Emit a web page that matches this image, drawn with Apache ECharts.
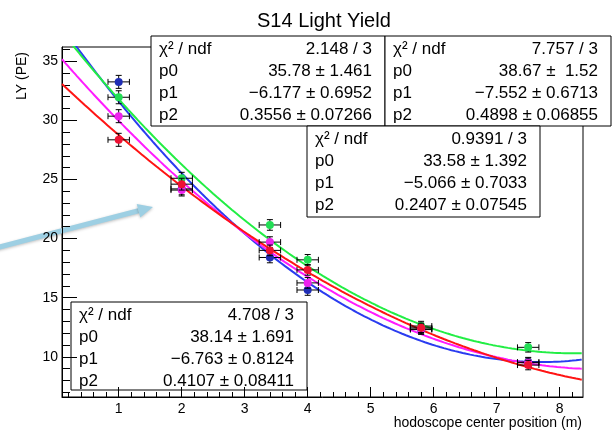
<!DOCTYPE html>
<html>
<head>
<meta charset="utf-8">
<script src="https://cdn.jsdelivr.net/npm/echarts@6/dist/echarts.min.js"></script>
<style>
html, body { margin: 0; padding: 0; background: #fff; }
#main { width: 615px; height: 431px; }
</style>
</head>
<body>
<div id="main"></div>
<script>
// measured points: hodoscope position (m) and light yield (PE)
const xPos = [1, 2, 3.4, 4, 5.8, 7.5];
const xErr = [0.17, 0.17, 0.17, 0.17, 0.17, 0.17];

const lyBlue = [33.25, 24.2, 18.4, 15.65, 12.3, 9.55];
const lyGreen = [31.95, 25.1, 21.15, 18.2, 12.6, 10.8];
const lyMagenta = [30.35, 24.1, 19.7, 16.25, 12.35, 9.5];
const lyRed = [28.35, 24.6, 19.0, 17.35, 12.45, 9.3];
const errLY = [0.55, 0.5, 0.45, 0.45, 0.4, 0.4];

// pol2 fit parameters p0, p1, p2 (from the stat boxes)
const fitMagenta = [35.78, -6.177, 0.3556];
const fitBlue = [38.67, -7.552, 0.4898];
const fitRed = [33.58, -5.066, 0.2407];
const fitGreen = [38.14, -6.763, 0.4107];

const statLabels = ['χ² / ndf', 'p0', 'p1', 'p2'];
const statMagenta = ['2.148 / 3', '35.78 ± 1.461', '−6.177 ± 0.6952', '0.3556 ± 0.07266'];
const statBlue = ['7.757 / 3', '38.67 ±  1.52', '−7.552 ± 0.6713', '0.4898 ± 0.06855'];
const statRed = ['0.9391 / 3', '33.58 ± 1.392', '−5.066 ± 0.7033', '0.2407 ± 0.07545'];
const statGreen = ['4.708 / 3', '38.14 ± 1.691', '−6.763 ± 0.8124', '0.4107 ± 0.08411'];

const xMajor = [1, 2, 3, 4, 5, 6, 7, 8];
const yMajor = [10, 15, 20, 25, 30, 35];

const X_MIN = 0.1, X_MAX = 8.37, Y_MIN = 6.6, Y_MAX = 36.2;
const FONT = 'Liberation Sans, Arial, sans-serif';

let xMinor = [];
for (let i = 1; i <= 41; i++) { if (i % 5) xMinor.push(+(i * 0.2).toFixed(2)); }
let yMinor = [];
for (let v = 7; v <= 36; v++) { if (v % 5) yMinor.push(v); }

function fitCurve(p) {
    let pts = [];
    for (let x = X_MIN; x <= X_MAX + 1e-9; x += 0.03) {
        pts.push([x, p[0] + p[1] * x + p[2] * x * x]);
    }
    return pts;
}

function points(ly) {
    return xPos.map((x, i) => [x, ly[i], xErr[i], errLY[i]]);
}

function errorBars(color) {
    return function (params, api) {
        const x = api.value(0), y = api.value(1), xe = api.value(2), ye = api.value(3);
        const c = api.coord([x, y]);
        const l = api.coord([x - xe, y])[0], r = api.coord([x + xe, y])[0];
        const b = api.coord([x, y - ye])[1], t = api.coord([x, y + ye])[1];
        const cap = 3;
        const st = { stroke: '#000', lineWidth: 1 };
        return {
            type: 'group',
            children: [
                { type: 'line', shape: { x1: l, y1: c[1], x2: r, y2: c[1] }, style: st },
                { type: 'line', shape: { x1: l, y1: c[1] - cap, x2: l, y2: c[1] + cap }, style: st },
                { type: 'line', shape: { x1: r, y1: c[1] - cap, x2: r, y2: c[1] + cap }, style: st },
                { type: 'line', shape: { x1: c[0], y1: b, x2: c[0], y2: t }, style: st },
                { type: 'line', shape: { x1: c[0] - cap, y1: b, x2: c[0] + cap, y2: b }, style: st },
                { type: 'line', shape: { x1: c[0] - cap, y1: t, x2: c[0] + cap, y2: t }, style: st },
                { type: 'circle', shape: { cx: c[0], cy: c[1], r: 4 }, style: { fill: color } }
            ]
        };
    };
}

function statBox(x, y, w, h, values) {
    let els = [{
        type: 'rect', shape: { x: x, y: y, width: w, height: h },
        style: { fill: '#fff', stroke: '#000', lineWidth: 1 }
    }];
    statLabels.forEach((lab, i) => {
        const ty = y + 13.5 + i * 22;
        els.push({ type: 'text', x: x + 8, y: ty,
            style: { text: lab, font: '17px ' + FONT, fill: '#000', align: 'left', verticalAlign: 'middle', textAlign: 'left', textVerticalAlign: 'middle' } });
        els.push({ type: 'text', x: x + w - 13, y: ty,
            style: { text: values[i], font: '17px ' + FONT, fill: '#000', align: 'right', verticalAlign: 'middle', textAlign: 'right', textVerticalAlign: 'middle' } });
    });
    return { type: 'group', z: 100, children: els };
}

function arrow(x1, y1, x2, y2, color) {
    const dx = x2 - x1, dy = y2 - y1, len = Math.sqrt(dx * dx + dy * dy);
    const ux = dx / len, uy = dy / len, hl = 15, hw = 7;
    const bx = x2 - ux * hl, by = y2 - uy * hl;
    return {
        type: 'group', z: 90,
        children: [
            { type: 'line', shape: { x1: x1, y1: y1, x2: bx, y2: by },
              style: { stroke: color, lineWidth: 5, shadowBlur: 3, shadowColor: 'rgba(0,0,0,0.25)', shadowOffsetY: 1 } },
            { type: 'polygon', shape: { points: [[x2, y2], [bx - uy * hw, by + ux * hw], [bx + uy * hw, by - ux * hw]] },
              style: { fill: color, shadowBlur: 3, shadowColor: 'rgba(0,0,0,0.25)', shadowOffsetY: 1 } }
        ]
    };
}

let chartDom = document.getElementById('main');
let myChart = echarts.init(chartDom);
let option;

const axisText = { color: '#000', fontSize: 14, fontFamily: FONT };

option = {
    animation: false,
    title: {
        text: 'S14 Light Yield',
        left: 252,
        top: 6,
        textStyle: { color: '#000', fontSize: 20, fontWeight: 'normal', fontFamily: FONT }
    },
    grid: {
        left: 62, right: 32, top: 47, bottom: 34,
        show: true, borderColor: '#000', borderWidth: 1
    },
    xAxis: [
        {
            type: 'value', min: X_MIN, max: X_MAX, position: 'bottom',
            axisLine: { lineStyle: { color: '#000' } },
            axisTick: { inside: true, length: 10, customValues: xMajor, lineStyle: { color: '#000' } },
            axisLabel: Object.assign({ customValues: xMajor, margin: 5 }, axisText),
            splitLine: { show: false }
        },
        {
            type: 'value', min: X_MIN, max: X_MAX, position: 'bottom',
            axisLine: { show: false },
            axisTick: { inside: true, length: 5, customValues: xMinor, lineStyle: { color: '#000' } },
            axisLabel: { show: false },
            splitLine: { show: false }
        }
    ],
    yAxis: [
        {
            type: 'value', min: Y_MIN, max: Y_MAX, position: 'left',
            axisLine: { show: true, lineStyle: { color: '#000' } },
            axisTick: { show: true, inside: true, length: 15, customValues: yMajor, lineStyle: { color: '#000' } },
            axisLabel: Object.assign({ customValues: yMajor, margin: 4 }, axisText),
            splitLine: { show: false }
        },
        {
            type: 'value', min: Y_MIN, max: Y_MAX, position: 'left',
            axisLine: { show: false },
            axisTick: { show: true, inside: true, length: 8, customValues: yMinor, lineStyle: { color: '#000' } },
            axisLabel: { show: false },
            splitLine: { show: false }
        }
    ],
    series: [
        { type: 'line', data: fitCurve(fitBlue), showSymbol: false, z: 2, lineStyle: { color: '#2a3cf0', width: 2 } },
        { type: 'line', data: fitMagenta && fitCurve(fitMagenta), showSymbol: false, z: 2, lineStyle: { color: '#ff1cff', width: 2 } },
        { type: 'line', data: fitCurve(fitRed), showSymbol: false, z: 2, lineStyle: { color: '#ff1414', width: 2 } },
        { type: 'line', data: fitCurve(fitGreen), showSymbol: false, z: 2, lineStyle: { color: '#22ee44', width: 2 } },
        { type: 'custom', renderItem: errorBars('#1f2db5'), data: points(lyBlue), z: 3, encode: { x: 0, y: 1 } },
        { type: 'custom', renderItem: errorBars('#22dd55'), data: points(lyGreen), z: 3, encode: { x: 0, y: 1 } },
        { type: 'custom', renderItem: errorBars('#ee22ee'), data: points(lyMagenta), z: 3, encode: { x: 0, y: 1 } },
        { type: 'custom', renderItem: errorBars('#ee1133'), data: points(lyRed), z: 3, encode: { x: 0, y: 1 } }
    ],
    graphic: [
        statBox(151, 36, 234, 90, statMagenta),
        statBox(385, 36, 226, 90, statBlue),
        statBox(307, 126, 233, 91, statRed),
        statBox(71, 302, 236, 88, statGreen),
        { type: 'text', x: 582, y: 423, z: 50,
          style: { text: 'hodoscope center position (m)', font: '14px ' + FONT, fill: '#000', align: 'right', verticalAlign: 'middle', textAlign: 'right', textVerticalAlign: 'middle' } },
        { type: 'text', x: 22, y: 76, rotation: Math.PI / 2, z: 50,
          style: { text: 'LY (PE)', font: '14px ' + FONT, fill: '#000', align: 'center', verticalAlign: 'middle', textAlign: 'center', textVerticalAlign: 'middle' } },
        arrow(-4, 248, 153, 207, '#9dcfe3')
    ]
};

option && myChart.setOption(option);
</script>
</body>
</html>
